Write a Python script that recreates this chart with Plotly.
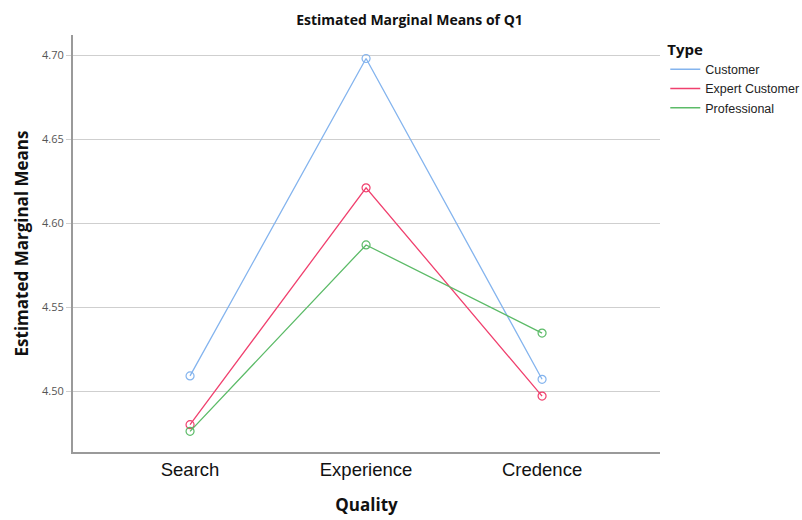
import plotly.graph_objects as go

categories = ["Search", "Experience", "Credence"]
customer = [4.509, 4.698, 4.507]
expert_customer = [4.480, 4.621, 4.497]
professional = [4.476, 4.587, 4.5345]
series_names = ["Customer", "Expert Customer", "Professional"]
colors = ["#84b4ee", "#f0406e", "#5cbb68"]
y_ticks = [4.50, 4.55, 4.60, 4.65, 4.70]

fig = go.Figure()
for name, vals, col in zip(series_names, [customer, expert_customer, professional], colors):
    fig.add_trace(go.Scatter(
        x=[0, 1, 2], y=vals, name=name, mode="lines+markers", showlegend=False,
        line=dict(color=col, width=1.3),
        marker=dict(symbol="circle-open", size=8, color=col, line=dict(width=1.2, color=col)),
    ))
# line-only legend entries
for name, col in zip(series_names, colors):
    fig.add_trace(go.Scatter(
        x=[None], y=[None], name=name, mode="lines", showlegend=True,
        line=dict(color=col, width=1.5),
    ))

fig.update_layout(
    width=802, height=520,
    margin=dict(l=73, r=142, t=35, b=68, autoexpand=False),
    paper_bgcolor="white", plot_bgcolor="white",
    title=dict(text="<b>Estimated Marginal Means of Q1</b>", x=(298+521)/2/802, xanchor="center",
               y=1-20/520, yanchor="middle",
               font=dict(family="Open Sans", size=14, color="#111")),
    legend=dict(title=dict(text="<b>Type</b>", font=dict(family="Open Sans", size=15, color="#111")),
                x=1.009, xanchor="left", y=1.0, yanchor="top",
                font=dict(family="Liberation Sans", size=12.5, color="#222"),
                tracegroupgap=0, itemwidth=30, bgcolor="rgba(0,0,0,0)"),
    showlegend=True,
)
fig.update_xaxes(
    range=[-0.665, 2.67], tickmode="array", tickvals=[0, 1, 2], ticktext=categories,
    showgrid=False, zeroline=False, showline=True, linecolor="#9a9a9a", linewidth=2,
    ticks="", automargin=False, tickfont=dict(family="Liberation Sans", size=18.5, color="#111"),
    title=dict(text="<b>Quality</b>", font=dict(family="Open Sans", size=17, color="#111"), standoff=20),
)
fig.update_yaxes(
    range=[4.4637, 4.712], tickmode="array", tickvals=y_ticks, ticktext=[f"{v:.2f}" for v in y_ticks],
    showgrid=True, gridcolor="#cfcfcf", gridwidth=1.2, zeroline=False,
    showline=True, linecolor="#9a9a9a", linewidth=2, automargin=False,
    ticks="outside", ticklen=5, tickcolor="#cfcfcf",
    tickfont=dict(family="Open Sans", size=11, color="#555"),
    title=dict(text="<b>Estimated Marginal Means</b>", font=dict(family="Open Sans", size=17, color="#111"), standoff=9),
)

fig.write_html("out.html", config={"displayModeBar": False},
               post_script="document.body.style.margin='0';")
